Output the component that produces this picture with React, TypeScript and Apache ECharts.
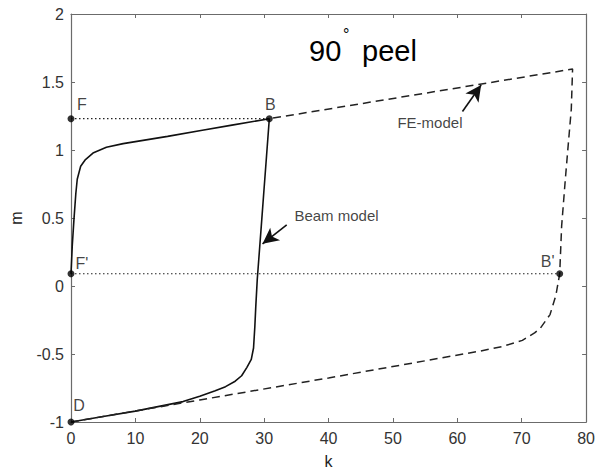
import React, { useEffect, useRef } from "react";
import * as echarts from "echarts";

// k range / ticks
const kMin = 0;
const kMax = 80;
const kStep = 10;
const mMin = -1;
const mMax = 2;
const mStep = 0.5;

// Beam model (solid): F' -> up -> B -> down -> D
const beamModel: [number, number][] = [
  [0, 0.09], [0.2, 0.3], [0.46, 0.49], [0.75, 0.68], [0.97, 0.785], [1.5, 0.88],
  [2.25, 0.93], [3.5, 0.98], [5.5, 1.02], [8.1, 1.047], [15, 1.1], [20.4, 1.145],
  [25, 1.183], [30.8, 1.23], [30.36, 0.95], [29.93, 0.68], [29.52, 0.42], [29.17, 0.2],
  [28.93, 0.05], [28.7, -0.15], [28.55, -0.3], [28.35, -0.456], [28.0, -0.54], [27.3, -0.6],
  [26.5, -0.66], [25.5, -0.7], [24, -0.74], [22.4, -0.77], [20, -0.81],
  [17.4, -0.85], [10, -0.92], [5, -0.96], [0, -1],
];

// FE model (dashed): D -> B' -> corner -> B
const feModel: [number, number][] = [
  [0, -1], [20, -0.838], [40, -0.676], [55, -0.55], [63.4, -0.48], [67, -0.445],
  [70.1, -0.4], [72, -0.345], [72.9, -0.31], [74.4, -0.21], [75.3, -0.07],
  [75.9, 0.09], [76.2, 0.44], [76.8, 0.8], [77.3, 1.08], [77.7, 1.3],
  [77.9, 1.595], [30.8, 1.23],
];

// Dotted guide lines
const guideF: [number, number][] = [[0, 1.23], [30.8, 1.23]];
const guideFp: [number, number][] = [[0, 0.09], [75.9, 0.09]];

// Key points
const pointNames = ["F", "B", "F'", "B'", "D"];
const pointK = [0, 30.8, 0, 75.9, 0];
const pointM = [1.23, 1.23, 0.09, 0.09, -1];
const pointLabelOffsets: [number, number][] = [[11, -14], [1, -14], [11, -10], [-12, -12], [8, -17]];

// Arrows [tailK, tailM, tipK, tipM]
const beamArrow = [33.5, 0.449, 29.75, 0.31];
const feArrow = [60.8, 1.283, 63.7, 1.478];

// Annotation texts
const beamText = { text: "Beam model", k: 34.7, m: 0.52 };
const feText = { text: "FE-model", k: 60.8, m: 1.203 };

const FONT = "'Liberation Sans', Arial, Helvetica, sans-serif";
const AXIS_COLOR = "#6b6b6b";

export default function App() {
  const ref = useRef<HTMLDivElement>(null);

  useEffect(() => {
    if (!ref.current) return;
    const chart = echarts.init(ref.current, undefined, { renderer: "svg" });

    const baseX = {
      type: "value" as const,
      min: kMin,
      max: kMax,
      interval: kStep,
      axisLine: { show: true, onZero: false, lineStyle: { color: AXIS_COLOR, width: 1.2 } },
      axisTick: { show: true, inside: true, length: 4, lineStyle: { color: AXIS_COLOR } },
      splitLine: { show: false },
    };
    const baseY = {
      type: "value" as const,
      min: mMin,
      max: mMax,
      interval: mStep,
      axisLine: { show: true, onZero: false, lineStyle: { color: AXIS_COLOR, width: 1.2 } },
      axisTick: { show: true, inside: true, length: 4, lineStyle: { color: AXIS_COLOR } },
      splitLine: { show: false },
    };

    const arrowML = (a: number[]) => ({
      silent: true,
      symbol: ["none", "arrow"],
      symbolSize: [12, 16],
      label: { show: false },
      lineStyle: { type: "solid", color: "#111", width: 1.6 },
      data: [[{ coord: [a[0], a[1]] }, { coord: [a[2], a[3]] }]],
    });

    const option: any = {
      animation: false,
      backgroundColor: "#fff",
      grid: { left: 67, right: 10, top: 14, bottom: 49 },
      xAxis: [
        {
          ...baseX,
          position: "bottom",
          name: "k",
          nameLocation: "middle",
          nameGap: 31,
          nameTextStyle: { color: "#222", fontSize: 16, fontFamily: FONT },
          axisLabel: { color: "#333", fontSize: 16, fontFamily: FONT, margin: 8 },
        },
        { ...baseX, position: "top", axisLabel: { show: false } },
      ],
      yAxis: [
        {
          ...baseY,
          position: "left",
          name: "m",
          nameLocation: "middle",
          nameGap: 47,
          nameTextStyle: { color: "#222", fontSize: 16, fontFamily: FONT },
          axisLabel: { color: "#333", fontSize: 16, fontFamily: FONT, margin: 7 },
        },
        { ...baseY, position: "right", axisLabel: { show: false } },
      ],
      graphic: [
        { type: "text", left: 309, top: 36, style: { text: "90", font: `29px ${FONT}`, fill: "#000" } },
        { type: "text", left: 343, top: 26, style: { text: "°", font: `16px ${FONT}`, fill: "#000" } },
        { type: "text", left: 362, top: 36, style: { text: "peel", font: `29px ${FONT}`, fill: "#000" } },
      ],
      series: [
        {
          type: "line",
          name: "guideF",
          data: guideF,
          symbol: "none",
          lineStyle: { type: [1.5, 2.5], color: "#222", width: 1.2 },
          z: 2,
        },
        {
          type: "line",
          name: "guideFp",
          data: guideFp,
          symbol: "none",
          lineStyle: { type: [1.5, 2.5], color: "#222", width: 1.2 },
          z: 2,
          markLine: arrowML(feArrow),
        },
        {
          type: "line",
          name: "Beam model",
          data: beamModel,
          symbol: "none",
          smooth: false,
          lineStyle: { type: "solid", color: "#111", width: 1.6 },
          z: 3,
          markLine: arrowML(beamArrow),
        },
        {
          type: "line",
          name: "FE-model",
          data: feModel,
          symbol: "none",
          lineStyle: { type: [8, 5], color: "#222", width: 1.5 },
          z: 3,
        },
        {
          type: "scatter",
          name: "points",
          symbol: "circle",
          symbolSize: 7,
          itemStyle: { color: "#000" },
          z: 5,
          data: pointNames.map((n, i) => ({
            value: [pointK[i], pointM[i]],
            name: n,
            label: {
              show: true,
              formatter: n,
              position: "inside",
              offset: pointLabelOffsets[i],
              color: "#111",
              fontSize: 16,
              fontFamily: FONT,
            },
          })),
        },
        {
          type: "scatter",
          name: "annotations",
          symbolSize: 0,
          silent: true,
          z: 6,
          data: [
            {
              value: [beamText.k, beamText.m],
              label: { show: true, formatter: beamText.text, position: "right", distance: 0, color: "#111", fontSize: 15, fontFamily: FONT },
            },
            {
              value: [feText.k, feText.m],
              label: { show: true, formatter: feText.text, position: "left", distance: 0, color: "#111", fontSize: 15, fontFamily: FONT },
            },
          ],
        },
      ],
    };

    chart.setOption(option);
    return () => chart.dispose();
  }, []);

  return (
    <div
      ref={ref}
      style={{ position: "fixed", left: 0, top: 0, width: 598, height: 474, background: "#fff" }}
    />
  );
}
